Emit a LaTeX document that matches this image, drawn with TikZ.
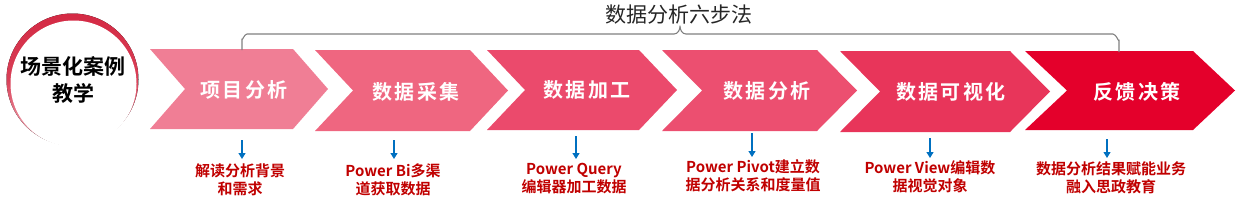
\documentclass[tikz,border=0pt]{standalone}
\usepackage{fontspec}
\newfontfamily\cjk{Noto Sans CJK SC}
\newfontfamily\cjkbold{Noto Sans CJK SC Bold}
\newfontfamily\cjkboldsp[LetterSpace=12]{Noto Sans CJK SC Bold}
\usetikzlibrary{arrows.meta}
\definecolor{cA}{HTML}{F07E95}
\definecolor{cB}{HTML}{EF6680}
\definecolor{cC}{HTML}{EB4A6C}
\definecolor{cD}{HTML}{EC4F70}
\definecolor{cE}{HTML}{E8355A}
\definecolor{cF}{HTML}{E4002B}
\definecolor{ring}{HTML}{D42A44}
\definecolor{ringlight}{HTML}{F4B8C2}
\definecolor{note}{HTML}{C00000}
\definecolor{arrblue}{HTML}{0070C0}
\definecolor{bracegray}{HTML}{808080}
\definecolor{titlegray}{HTML}{262626}
\tikzset{
  steplabel/.style={text=white, font=\cjkboldsp\fontsize{20}{24}\selectfont, inner sep=0pt},
  notelabel/.style={text=note, font=\cjkbold\fontsize{15}{18}\selectfont, align=center, inner sep=0pt},
  downarrow/.style={draw=arrblue, line width=1.2pt, -{Triangle[length=6pt,width=7pt]}},
}
\newcommand{\chevshape}[6]{%
  \fill[#6] (#1,#2) -- (#4-#5,#2) -- (#4,{(#2+#3)/2}) -- (#4-#5,#3) -- (#1,#3) -- (#1+#5,{(#2+#3)/2}) -- cycle;}
\begin{document}
\begin{tikzpicture}[x=1pt,y=-1pt]
\useasboundingbox (0,0) rectangle (1241,201);
% circle
\fill[top color=ring, bottom color=ringlight, middle color=ring!85!ringlight] (72.5,79.5) circle (66);
\fill[white] (73.5,83.5) circle (63);
\node[align=center, font=\cjkbold\fontsize{21}{27}\selectfont, inner sep=0pt] (intro) at (73,80) {场景化案例\\教学};
% chevrons
\chevshape{150}{49}{129}{328}{35}{cA}
\chevshape{315}{50}{131}{508}{38}{cB}
\chevshape{487}{50}{130}{677}{38}{cC}
\chevshape{662}{50}{131}{857}{40}{cD}
\chevshape{840}{51}{132}{1050}{40}{cE}
\chevshape{1025}{51}{130}{1235}{42}{cF}
\node[steplabel] (s1) at (244,90) {项目分析};
\node[steplabel] (s2) at (416,92) {数据采集};
\node[steplabel] (s3) at (587,90) {数据加工};
\node[steplabel] (s4) at (767,91) {数据分析};
\node[steplabel] (s5) at (951,92) {数据可视化};
\node[steplabel] (s6) at (1137,92) {反馈决策};
% brace and title
\draw[bracegray, line width=1.1pt, line join=round]
  (242,50) -- (242,39) to[out=-90,in=180] (247,34) -- (674,34)
  to[out=0,in=-90] (680,26) to[out=-90,in=180] (686,34) -- (1113,34)
  to[out=0,in=-90] (1119,40) -- (1119,52);
\node[font=\cjk\fontsize{21}{25}\selectfont, text=titlegray, inner sep=0pt] (title) at (679,15) {数据分析六步法};
% arrows
\coordinate (a1s) at (242,140); \coordinate (a1e) at (242,159);
\coordinate (a2s) at (394,140); \coordinate (a2e) at (394,159);
\coordinate (a3s) at (576,136); \coordinate (a3e) at (576,159);
\coordinate (a4s) at (752,133); \coordinate (a4e) at (752,157);
\coordinate (a5s) at (930,138); \coordinate (a5e) at (930,158);
\coordinate (a6s) at (1107,139); \coordinate (a6e) at (1107,158);
\foreach \i in {1,...,6} {\draw[downarrow] (a\i s) -- (a\i e);}
% notes
\node[notelabel] (n1) at (240,180) {解读分析背景\\和需求};
\node[notelabel] (n2) at (393,180) {Power Bi多渠\\道获取数据};
\node[notelabel] (n3) at (574,179) {Power Query\\编辑器加工数据};
\node[notelabel] (n4) at (753,176) {Power Pivot建立数\\据分析关系和度量值};
\node[notelabel] (n5) at (930,177) {Power View编辑数\\据视觉对象};
\node[notelabel] (n6) at (1111,178) {数据分析结果赋能业务\\融入思政教育};
\end{tikzpicture}
\end{document}
